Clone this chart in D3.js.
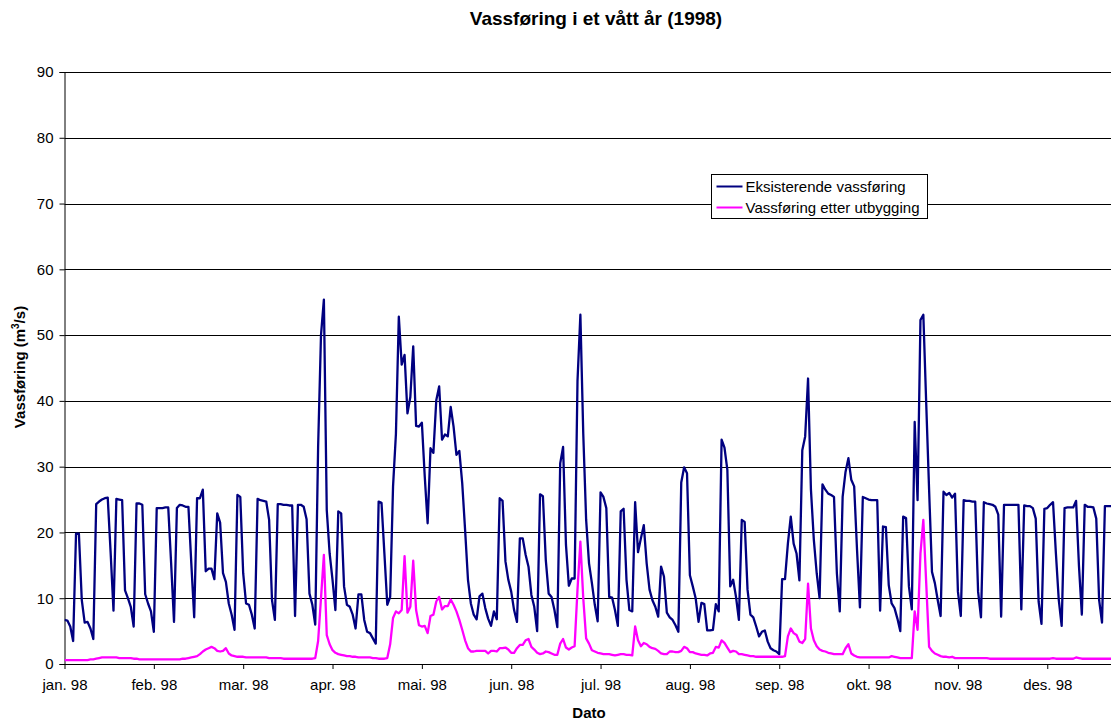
<!DOCTYPE html>
<html>
<head>
<meta charset="utf-8">
<script src="https://cdn.jsdelivr.net/npm/d3@7"></script>
<style>
  body { margin: 0; background: #fff; }
  svg { display: block; font-family: 'Liberation Sans', Arial, sans-serif; }
</style>
</head>
<body>
<div id="chart"></div>
<script>
// tick labels (category axis, one tick every 31 days)
const tickLabels = ['jan. 98', 'feb. 98', 'mar. 98', 'apr. 98', 'mai. 98', 'jun. 98',
  'jul. 98', 'aug. 98', 'sep. 98', 'okt. 98', 'nov. 98', 'des. 98'];
const yTicks = [0, 10, 20, 30, 40, 50, 60, 70, 80, 90];
const seriesNames = ['Eksisterende vassføring', 'Vassføring etter utbygging'];

// daily values, m3/s
const eksisterende = [
  6.7, 6.6, 5.7, 3.5, 19.8, 19.8, 9.7, 6.3, 6.4, 5.4, 3.8, 24.3, 24.7, 25.0, 25.2, 25.3, 17.0, 8.1, 25.1, 25.0,
  24.9, 11.2, 10.0, 8.7, 5.7, 24.4, 24.4, 24.2, 10.6, 9.2, 8.0, 4.9, 23.7, 23.7, 23.7, 23.8, 23.8, 15.3, 6.4, 23.7,
  24.2, 24.1, 23.9, 23.9, 15.3, 7.1, 25.2, 25.2, 26.5, 14.1, 14.5, 14.5, 12.9, 22.9, 21.5, 13.8, 12.5, 9.2, 7.5, 5.2,
  25.7, 25.4, 13.8, 9.2, 9.0, 7.5, 5.4, 25.1, 24.9, 24.8, 24.7, 21.9, 9.7, 6.7, 24.3, 24.3, 24.2, 24.2, 24.1, 24.1,
  7.3, 24.2, 24.2, 23.9, 22.0, 10.7, 9.0, 6.0, 33.0, 50.0, 55.4, 23.4, 16.8, 12.8, 8.2, 23.2, 22.9, 11.8, 9.0, 8.7,
  7.5, 5.4, 10.6, 10.6, 6.7, 4.9, 4.7, 3.9, 3.1, 24.7, 24.5, 16.8, 9.0, 10.2, 27.0, 35.0, 52.8, 45.5, 47.0, 38.1,
  40.6, 48.3, 36.2, 36.1, 36.7, 28.5, 21.4, 32.8, 32.1, 40.1, 42.2, 34.1, 34.9, 34.6, 39.1, 36.1, 31.8, 32.4, 27.5, 20.4,
  12.8, 9.2, 7.5, 6.8, 10.3, 10.7, 8.5, 6.9, 5.8, 8.0, 6.8, 25.2, 24.8, 15.6, 12.8, 11.0, 8.2, 6.4, 19.1, 19.1,
  16.6, 14.8, 10.5, 8.7, 5.0, 25.8, 25.5, 15.8, 10.7, 10.2, 8.2, 5.6, 30.5, 33.0, 18.1, 11.9, 13.0, 13.0, 43.0, 53.1,
  35.0, 21.9, 15.3, 12.3, 9.0, 6.5, 26.1, 25.4, 23.7, 10.2, 10.1, 8.2, 5.8, 23.2, 23.6, 12.8, 8.2, 8.0, 24.6, 17.0,
  19.1, 21.1, 15.3, 11.3, 9.7, 8.7, 7.2, 14.8, 13.3, 7.8, 7.1, 6.7, 5.9, 4.9, 27.6, 29.9, 29.0, 13.5, 11.8, 10.0,
  6.4, 9.3, 9.1, 5.1, 5.1, 5.2, 9.1, 8.0, 34.1, 32.9, 29.5, 11.8, 12.8, 10.2, 6.7, 21.9, 21.6, 11.3, 7.5, 7.1,
  5.7, 4.2, 4.9, 5.1, 3.4, 2.4, 2.1, 1.9, 1.5, 12.9, 12.9, 18.3, 22.4, 18.3, 16.8, 12.7, 32.5, 34.6, 43.4, 26.5,
  18.9, 13.8, 10.0, 27.3, 26.5, 25.9, 25.7, 25.4, 13.8, 8.0, 25.4, 29.2, 31.3, 28.0, 27.0, 17.3, 8.6, 25.4, 25.2, 25.0,
  24.9, 24.9, 24.9, 8.1, 20.9, 20.8, 12.0, 9.2, 8.5, 6.9, 5.0, 22.4, 22.2, 11.8, 8.3, 36.8, 24.9, 52.3, 53.1, 39.6,
  26.5, 14.0, 12.3, 9.7, 7.3, 26.2, 25.7, 26.0, 25.3, 25.9, 11.0, 7.3, 24.9, 24.8, 24.8, 24.7, 24.7, 11.0, 7.1, 24.6,
  24.4, 24.3, 24.2, 23.9, 22.7, 7.2, 24.2, 24.2, 24.2, 24.2, 24.2, 24.2, 8.3, 24.1, 24.0, 24.0, 23.7, 22.1, 9.5, 6.1,
  23.6, 23.7, 24.2, 24.6, 16.8, 9.7, 5.8, 23.7, 23.8, 23.8, 23.8, 24.8, 14.9, 7.5, 24.2, 23.9, 23.9, 23.8, 22.1, 9.7,
  6.3, 24.0, 24.0, 24.0, 24.0
];

const etterUtbygging = [
  0.6, 0.6, 0.6, 0.6, 0.6, 0.6, 0.6, 0.6, 0.6, 0.7, 0.7, 0.8, 0.9, 1.0, 1.0, 1.0, 1.0, 1.0, 1.0, 0.9,
  0.9, 0.9, 0.9, 0.9, 0.8, 0.8, 0.7, 0.7, 0.7, 0.7, 0.7, 0.7, 0.7, 0.7, 0.7, 0.7, 0.7, 0.7, 0.7, 0.7,
  0.7, 0.8, 0.8, 0.9, 1.0, 1.1, 1.2, 1.5, 1.9, 2.2, 2.4, 2.6, 2.4, 2.0, 1.9, 2.0, 2.4, 1.6, 1.3, 1.2,
  1.1, 1.1, 1.1, 1.0, 1.0, 1.0, 1.0, 1.0, 1.0, 1.0, 1.0, 0.9, 0.9, 0.9, 0.9, 0.9, 0.8, 0.8, 0.8, 0.8,
  0.8, 0.8, 0.8, 0.8, 0.8, 0.8, 0.8, 0.9, 3.5, 10.0, 16.6, 4.4, 3.0, 2.1, 1.7, 1.5, 1.4, 1.3, 1.2, 1.2,
  1.1, 1.1, 1.0, 1.0, 1.0, 1.0, 1.0, 0.9, 0.9, 0.8, 0.8, 0.8, 0.9, 3.0, 7.0, 8.0, 7.7, 8.2, 16.4, 7.8,
  8.7, 15.7, 8.2, 5.9, 5.7, 5.8, 4.7, 7.3, 7.5, 9.5, 10.2, 8.3, 8.8, 8.8, 9.8, 9.0, 8.0, 6.7, 5.2, 3.6,
  2.4, 1.9, 1.9, 2.0, 2.0, 2.0, 2.0, 1.6, 2.0, 2.0, 1.9, 2.4, 2.4, 2.5, 2.2, 1.7, 1.7, 2.4, 2.9, 2.9,
  3.6, 3.8, 2.6, 2.2, 1.7, 1.5, 1.6, 1.9, 1.8, 1.6, 1.4, 1.4, 3.1, 3.8, 2.5, 2.2, 2.5, 2.7, 11.3, 18.6,
  10.0, 3.9, 3.1, 2.1, 1.9, 1.7, 1.6, 1.5, 1.5, 1.5, 1.4, 1.3, 1.4, 1.5, 1.5, 1.4, 1.4, 1.3, 5.7, 3.6,
  2.7, 3.2, 3.0, 2.6, 2.4, 2.3, 2.0, 1.6, 1.5, 1.5, 1.9, 1.9, 1.8, 1.8, 2.0, 2.6, 2.4, 1.8, 1.8, 1.6,
  1.5, 1.4, 1.4, 1.3, 1.6, 1.7, 2.6, 2.5, 3.6, 3.2, 2.5, 1.8, 2.0, 1.9, 1.5, 1.5, 1.4, 1.3, 1.2, 1.2,
  1.1, 1.1, 1.1, 1.1, 1.1, 1.1, 1.1, 1.1, 1.1, 1.1, 1.2, 4.2, 5.4, 4.7, 4.4, 3.4, 3.2, 3.8, 12.2, 5.4,
  3.6, 2.7, 2.2, 2.0, 1.9, 1.7, 1.6, 1.5, 1.5, 1.5, 1.5, 2.4, 3.0, 1.6, 1.3, 1.1, 1.0, 1.0, 1.0, 1.0,
  1.0, 1.0, 1.0, 1.0, 1.0, 1.0, 1.0, 1.2, 1.1, 1.0, 0.9, 0.9, 0.9, 0.9, 0.9, 8.0, 5.2, 16.8, 21.9, 12.3,
  2.6, 2.0, 1.6, 1.4, 1.2, 1.1, 1.1, 1.0, 1.1, 0.9, 0.9, 0.9, 0.9, 0.9, 0.9, 0.9, 0.9, 0.9, 0.9, 0.9,
  0.9, 0.8, 0.8, 0.8, 0.8, 0.8, 0.8, 0.8, 0.8, 0.8, 0.8, 0.8, 0.8, 0.8, 0.8, 0.8, 0.8, 0.8, 0.8, 0.8,
  0.8, 0.8, 0.8, 0.9, 0.8, 0.8, 0.8, 0.8, 0.8, 0.8, 0.8, 1.0, 0.9, 0.8, 0.8, 0.8, 0.8, 0.8, 0.8, 0.8,
  0.8, 0.8, 0.8, 0.8, 0.8
];

const width = 1111, height = 722;
const margin = { left: 64.5, top: 72, bottom: 664 };
const dayW = 2.882;

const svg = d3.select('#chart').append('svg')
  .attr('width', width)
  .attr('height', height);

const x = d3.scaleLinear()
  .domain([0, eksisterende.length - 1])
  .range([margin.left, margin.left + (eksisterende.length - 1) * dayW]);
const y = d3.scaleLinear().domain([0, 90]).range([margin.bottom, margin.top]);

// title
svg.append('text')
  .attr('x', 596).attr('y', 25)
  .attr('text-anchor', 'middle')
  .style('font-size', '19px').style('font-weight', 'bold')
  .text('Vassføring i et vått år (1998)');

// gridlines
svg.append('g').selectAll('line')
  .data(yTicks.filter(d => d > 0))
  .enter().append('line')
  .attr('x1', margin.left).attr('x2', width)
  .attr('y1', d => Math.round(y(d)) + 0.5).attr('y2', d => Math.round(y(d)) + 0.5)
  .attr('stroke', '#000').attr('stroke-width', 1);

// y axis
const yAxis = svg.append('g')
  .attr('transform', 'translate(' + margin.left + ',0)')
  .call(d3.axisLeft(y).tickValues(yTicks).tickSize(5).tickPadding(6));
yAxis.selectAll('text').style('font-size', '15px').attr('fill', '#000');
yAxis.selectAll('line, path').attr('stroke', '#000');

// x axis
const tickIdx = tickLabels.map((d, i) => i * 31);
const xAxis = svg.append('g')
  .attr('transform', 'translate(0,' + margin.bottom + ')')
  .call(d3.axisBottom(x).tickValues(tickIdx).tickFormat((d, i) => tickLabels[i]).tickSize(5).tickSizeOuter(0).tickPadding(10));
xAxis.select('.domain').attr('d', 'M' + margin.left + ',0.5H' + width);
xAxis.selectAll('text').style('font-size', '15px').attr('fill', '#000');
xAxis.selectAll('line, path').attr('stroke', '#000');

// axis titles
svg.append('text')
  .attr('x', 589).attr('y', 718)
  .attr('text-anchor', 'middle')
  .style('font-size', '15px').style('font-weight', 'bold')
  .text('Dato');

const yl = svg.append('text')
  .attr('transform', 'translate(25,367) rotate(-90)')
  .attr('text-anchor', 'middle')
  .style('font-size', '15px').style('font-weight', 'bold');
yl.append('tspan').text('Vassføring (m');
yl.append('tspan').attr('dy', -6).style('font-size', '10px').text('3');
yl.append('tspan').attr('dy', 6).text('/s)');

// lines
const line = d3.line()
  .x((d, i) => x(i))
  .y(d => y(d));

const colors = ['#000080', '#ff00ff'];
svg.append('clipPath').attr('id', 'plot-clip')
  .append('rect').attr('x', margin.left).attr('y', margin.top - 5)
  .attr('width', width - margin.left).attr('height', margin.bottom - margin.top + 5);

svg.append('g').attr('clip-path', 'url(#plot-clip)')
  .selectAll('path')
  .data([eksisterende, etterUtbygging])
  .enter().append('path')
  .attr('fill', 'none')
  .attr('stroke', (d, i) => colors[i])
  .attr('stroke-width', 2.3)
  .attr('stroke-linejoin', 'round')
  .attr('d', d => line(d));

// legend
const legend = svg.append('g').attr('transform', 'translate(711.5,174.5)');
legend.append('rect')
  .attr('width', 216).attr('height', 44)
  .attr('fill', '#fff').attr('stroke', '#000');
seriesNames.forEach((name, i) => {
  const ly = 12 + i * 21;
  legend.append('line')
    .attr('x1', 5).attr('x2', 31).attr('y1', ly).attr('y2', ly)
    .attr('stroke', colors[i]).attr('stroke-width', 2);
  legend.append('text')
    .attr('x', 34).attr('y', ly + 5)
    .style('font-size', '15px')
    .text(name);
});
</script>
</body>
</html>
